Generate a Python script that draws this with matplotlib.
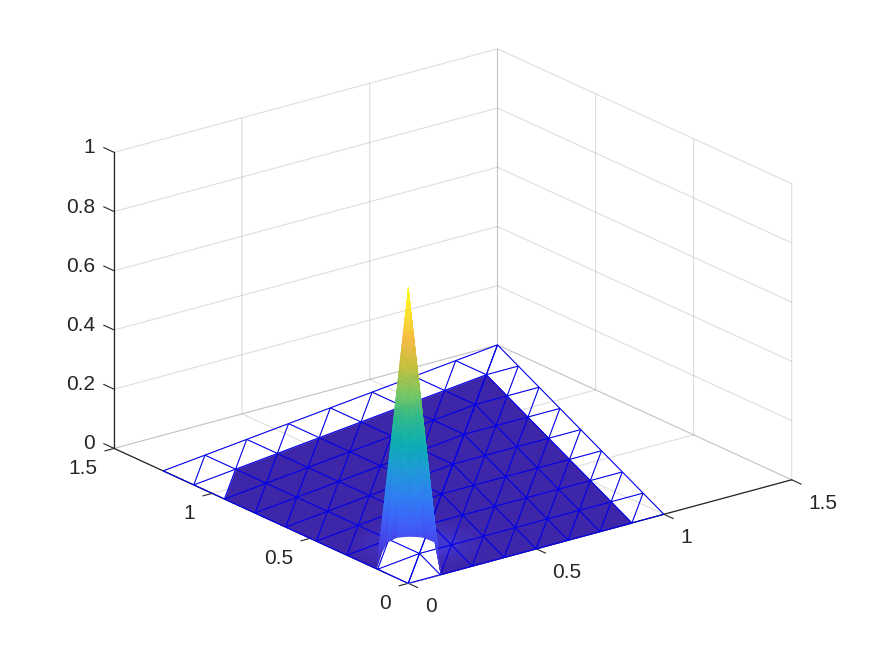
import numpy as np
import matplotlib
matplotlib.use("Agg")
import matplotlib.pyplot as plt
from matplotlib.colors import LinearSegmentedColormap
from mpl_toolkits.mplot3d import proj3d
from mpl_toolkits.mplot3d.art3d import Poly3DCollection, Line3DCollection

plt.rcParams['font.family'] = ['Liberation Sans', 'DejaVu Sans']

# ---- data ----
X_TICKS = [0, 0.5, 1, 1.5]
Y_TICKS = [0, 0.5, 1, 1.5]
Z_TICKS = [0, 0.2, 0.4, 0.6, 0.8, 1]
X_LABELS = ['0', '0.5', '1', '1.5']
Y_LABELS = ['0', '0.5', '1', '1.5']
Z_LABELS = ['0', '0.2', '0.4', '0.6', '0.8', '1']

CORNER_X = (1.0, 0.0)       # end of the mesh on the x axis
CORNER_DIAG = (1.5, 1.5)    # far corner of the mesh
CORNER_Y = (0.0, 1.25)      # end of the mesh on the y axis
DIVISIONS = 8

PEAK = 1.0
# white gap on the floor near the origin
HOLE_X = [0.008, 0.101, 0.168, 0.219, 0.257, 0.284, 0.287, 0.213, 0.129]
HOLE_Y = [0.171, 0.267, 0.328, 0.345, 0.328, 0.297, 0.239, 0.128, 0.003]
# lower rim of the peak
RIM_X = [0.008, 0.021, 0.008, 0.012, 0.034, 0.077, 0.127, 0.133, 0.129]
RIM_Y = [0.171, 0.163, 0.120, 0.074, 0.036, 0.026, 0.031, 0.024, 0.003]
RIM_Z = [0.00, 0.05, 0.10, 0.13, 0.14, 0.13, 0.10, 0.05, 0.00]

HALO_CENTER = (0.24, 0.25)
HALO_RADII = [0.21, 0.18, 0.15, 0.125, 0.10]
HALO_LEVELS = [0.008, 0.016, 0.026, 0.04, 0.055]

PARULA = ['#3e26a8', '#4741e8', '#3f63fb', '#2f83f4', '#1f9ed9', '#0db2b4',
          '#2fbf8c', '#7bc55c', '#c4bf3b', '#f4b93e', '#f9e029', '#f9fb15']
cmap = LinearSegmentedColormap.from_list('parula_like', PARULA)


def node(side, a, b):
    far = CORNER_X if side == 0 else CORNER_Y
    return (a / DIVISIONS * CORNER_DIAG[0] + b / DIVISIONS * far[0],
            a / DIVISIONS * CORNER_DIAG[1] + b / DIVISIONS * far[1])


def to3d(p, z=0.0):
    return (p[0], p[1], z)


mesh_segments = []
for side in (0, 1):
    for a in range(DIVISIONS + 1):
        for b in range(DIVISIONS + 1 - a):
            if a + b < DIVISIONS:
                mesh_segments.append([to3d(node(side, a, b)), to3d(node(side, a + 1, b))])
                mesh_segments.append([to3d(node(side, a, b)), to3d(node(side, a, b + 1))])
                mesh_segments.append([to3d(node(side, a + 1, b)), to3d(node(side, a, b + 1))])

# outline of the coloured part of the floor
floor = [(0, 0), node(0, 0, 7)]
floor += [node(0, a, 7 - a) for a in range(1, 8)]
floor += [node(1, a, 7 - a) for a in range(6, 0, -1)]
floor += [node(1, 0, 6)]

fig = plt.figure(figsize=(8.75, 6.56), dpi=100)
ax = fig.add_axes([0.1, 0.1, 0.8, 0.8], projection='3d', computed_zorder=False)
ax.set_proj_type('ortho')
ax.view_init(elev=20.6, azim=-127.5)
ax.set_box_aspect((1, 1, 0.6545))
ax.set_xlim(0, 1.5, view_margin=0)
ax.set_ylim(0, 1.5, view_margin=0)
ax.set_zlim(0, 1, view_margin=0)
ax.set_xticks(X_TICKS, [''] * len(X_TICKS))
ax.set_yticks(Y_TICKS, [''] * len(Y_TICKS))
ax.set_zticks(Z_TICKS, [''] * len(Z_TICKS))

for axis in (ax.xaxis, ax.yaxis, ax.zaxis):
    axis.pane.set_visible(False)
    axis.line.set_color('#262626')
    axis.line.set_linewidth(0.9)
    axis._axinfo['grid']['color'] = (0.15, 0.15, 0.15, 0.15)
    axis._axinfo['grid']['linewidth'] = 0.8
    axis._axinfo['tick']['inward_factor'] = 0.0
    axis._axinfo['tick']['outward_factor'] = 0.0
    axis._axinfo['tick']['linewidth'] = {True: 0.0, False: 0.0}
    axis._axinfo['tick']['color'] = (0, 0, 0, 0)

# tick marks, running along the floor / wall direction as in the reference
tick_segments = []
for v in X_TICKS:
    tick_segments.append([(v, 0, 0), (v, -0.05, 0)])
for v in Y_TICKS:
    tick_segments.append([(0, v, 0), (-0.038, v, 0)])
for v in Z_TICKS:
    tick_segments.append([(0, 1.5, v), (0, 1.555, v)])
ax.add_collection3d(Line3DCollection(tick_segments, colors='#262626', linewidths=0.8, zorder=0.5))

ax.add_collection3d(Poly3DCollection([[to3d(p) for p in floor]], facecolors=[cmap(0.0)],
                                     edgecolors=[cmap(0.0)], linewidths=0.3, zorder=1))
for r, lev in zip(HALO_RADII, HALO_LEVELS):
    t = np.radians(np.arange(0, 360, 6))
    ring = [(HALO_CENTER[0] + r * np.cos(v), HALO_CENTER[1] + r * np.sin(v), 0) for v in t]
    ax.add_collection3d(Poly3DCollection([ring], facecolors=[cmap(lev)], edgecolors='none', zorder=2))

hole = [(0, 0, 0)] + [(x, y, 0) for x, y in zip(HOLE_X, HOLE_Y)]
ax.add_collection3d(Poly3DCollection([hole], facecolors='white', edgecolors='white',
                                     linewidths=0.3, zorder=3))
ax.add_collection3d(Line3DCollection(mesh_segments, colors='#0000ec', linewidths=0.8, zorder=4))

# the peak: bands running from the apex to the lower rim
bands = np.linspace(0, 1, 121)
cone_polys, cone_cols = [], []
hx, hy, hz = np.array(RIM_X), np.array(RIM_Y), np.array(RIM_Z)
for t0, t1 in zip(bands[:-1], bands[1:]):
    for i in range(len(hx) - 1):
        zs = [PEAK + (hz[i] - PEAK) * t0, PEAK + (hz[i + 1] - PEAK) * t0,
              PEAK + (hz[i + 1] - PEAK) * t1, PEAK + (hz[i] - PEAK) * t1]
        cone_polys.append([(hx[i] * t0, hy[i] * t0, zs[0]), (hx[i + 1] * t0, hy[i + 1] * t0, zs[1]),
                           (hx[i + 1] * t1, hy[i + 1] * t1, zs[2]), (hx[i] * t1, hy[i] * t1, zs[3])])
        cone_cols.append(cmap(sum(zs) / 4))
cone = Poly3DCollection(cone_polys, facecolors=cone_cols, edgecolors=cone_cols,
                        linewidths=0.3, zorder=5)
ax.add_collection3d(cone)

# place the box so the front corner sits where it does in the reference
W, H = fig.get_size_inches() * fig.dpi
TARGET_ORIGIN = (408.3, H - 583.3)
TARGET_SPAN = 383.4


def px(x, y, z):
    fig.canvas.draw()
    u, v, _ = proj3d.proj_transform(x, y, z, ax.get_proj())
    return ax.transData.transform((u, v))


side = 600.0
cx, cy = W / 2, H / 2
for _ in range(3):
    ax.set_position([(cx - side / 2) / W, (cy - side / 2) / H, side / W, side / H])
    o = px(0, 0, 0)
    r = px(1.5, 0, 0)
    side *= TARGET_SPAN / (r[0] - o[0])
    ax.set_position([(cx - side / 2) / W, (cy - side / 2) / H, side / W, side / H])
    o = px(0, 0, 0)
    cx += TARGET_ORIGIN[0] - o[0]
    cy += TARGET_ORIGIN[1] - o[1]
ax.set_position([(cx - side / 2) / W, (cy - side / 2) / H, side / W, side / H])

# tick labels, placed beside each tick


def label(point, text, dx, dy, ha):
    p = px(*point)
    fig.text((p[0] + dx) / W, (p[1] + dy) / H, text, ha=ha, va='center',
             fontsize=15, color='#262626')


for v, s in zip(X_TICKS, X_LABELS):
    label((v, 0, 0), s, 16.5, -23.5, 'left')
for v, s in zip(Y_TICKS, Y_LABELS):
    label((0, v, 0), s, -17, -20.5, 'right')
for v, s in zip(Z_TICKS, Z_LABELS):
    label((0, 1.5, v), s, -19, 4.5, 'right')

fig.savefig('out.png', dpi=100, facecolor='white')
